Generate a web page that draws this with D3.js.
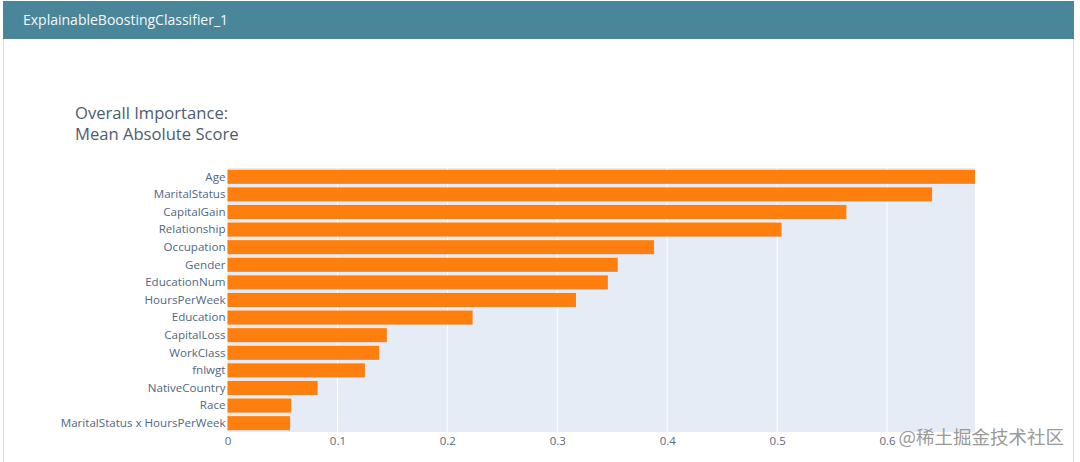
<!DOCTYPE html>
<html>
<head>
<meta charset="utf-8">
<script src="https://cdn.jsdelivr.net/npm/d3@7"></script>
<style>
  body { margin: 0; background: #fff; font-family: "Open Sans", sans-serif; }
</style>
</head>
<body>
<div id="chart"></div>
<script>
// Feature names, top to bottom
const features = [
    'Age', 'MaritalStatus', 'CapitalGain', 'Relationship', 'Occupation',
    'Gender', 'EducationNum', 'HoursPerWeek', 'Education', 'CapitalLoss',
    'WorkClass', 'fnlwgt', 'NativeCountry', 'Race', 'MaritalStatus x HoursPerWeek'
];
// Mean absolute score per feature
const scores = [
    0.680, 0.641, 0.563, 0.504, 0.388,
    0.355, 0.346, 0.317, 0.223, 0.145,
    0.138, 0.125, 0.082, 0.058, 0.057
];
const xTicks = [0, 0.1, 0.2, 0.3, 0.4, 0.5, 0.6];
const panelTitle = 'ExplainableBoostingClassifier_1';
const titleLines = ['Overall Importance:', 'Mean Absolute Score'];

const width = 1080, height = 462;
const marginLeft = 227.5, marginRight = 105, marginTop = 168, marginBottom = 30;

const svg = d3.select("#chart").append("svg")
    .attr("width", width)
    .attr("height", height);

// Panel frame and header
svg.append("rect")
    .attr("x", 3.5).attr("y", 1.5)
    .attr("width", 1070).attr("height", height)
    .attr("fill", "#fff")
    .attr("stroke", "#dcdcdc");

svg.append("rect")
    .attr("x", 3).attr("y", 1)
    .attr("width", 1071).attr("height", 38)
    .attr("fill", "#4a869a");

svg.append("text")
    .attr("x", 23).attr("y", 25)
    .attr("fill", "#f4f8fa")
    .attr("font-size", 14)
    .text(panelTitle);

// Scales
const x = d3.scaleLinear()
    .domain([0, d3.max(scores)])
    .range([marginLeft, width - marginRight]);

const y = d3.scaleBand()
    .domain(features)
    .range([marginTop, height - marginBottom])
    .paddingInner(0.2)
    .paddingOuter(0.1);

// Plot background
svg.append("rect")
    .attr("x", marginLeft)
    .attr("y", marginTop)
    .attr("width", x.range()[1] - marginLeft)
    .attr("height", height - marginBottom - marginTop)
    .attr("fill", "#e5ecf6");

// Gridlines
svg.append("g")
    .selectAll("line")
    .data(xTicks.slice(1))
    .enter().append("line")
    .attr("x1", d => x(d)).attr("x2", d => x(d))
    .attr("y1", marginTop).attr("y2", height - marginBottom)
    .attr("stroke", "#fff")
    .attr("stroke-width", 1);

// Bars
svg.selectAll(".bar")
    .data(features)
    .enter().append("rect")
    .attr("class", "bar")
    .attr("x", x(0))
    .attr("y", d => y(d))
    .attr("width", (d, i) => x(scores[i]) - x(0))
    .attr("height", y.bandwidth())
    .attr("fill", "#ff7f0e");

// X axis
const xAxis = svg.append("g")
    .attr("transform", `translate(0,${height - marginBottom})`)
    .call(d3.axisBottom(x).tickValues(xTicks).tickFormat(d => d === 0 ? "0" : d3.format(".1f")(d)).tickSize(0).tickPadding(5));
xAxis.select(".domain").remove();
xAxis.selectAll("text")
    .attr("fill", "#5a6b82")
    .attr("font-family", "Open Sans")
    .attr("font-size", 11.5);

// Y axis
const yAxis = svg.append("g")
    .attr("transform", `translate(${marginLeft},0)`)
    .call(d3.axisLeft(y).tickSize(0).tickPadding(2));
yAxis.select(".domain").remove();
yAxis.selectAll("text")
    .attr("fill", "#506784")
    .attr("font-family", "Open Sans")
    .attr("font-size", 11.6);

// Chart title
svg.append("g")
    .selectAll("text")
    .data(titleLines)
    .enter().append("text")
    .attr("x", 75)
    .attr("y", (d, i) => 119 + i * 21)
    .attr("fill", "#4d5c70")
    .attr("font-size", 16.6)
    .text(d => d);

// Watermark
svg.append("text")
    .attr("x", 1064).attr("y", 444)
    .attr("text-anchor", "end")
    .attr("fill", "#9a9a9a")
    .attr("font-family", "Noto Sans CJK SC")
    .attr("font-size", 18.5)
    .text("@稀土掘金技术社区");
</script>
</body>
</html>
